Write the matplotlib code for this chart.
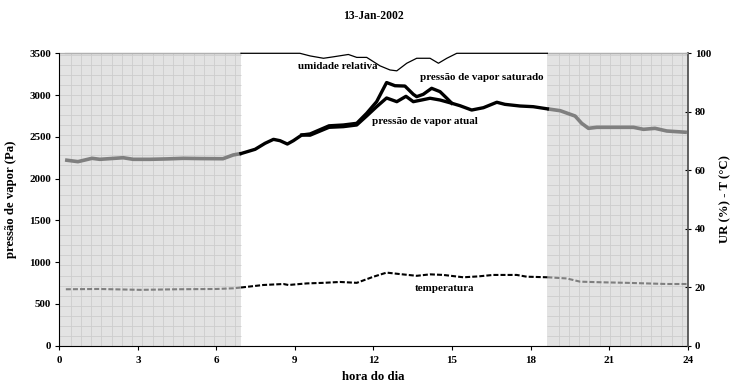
import numpy as np
import matplotlib
matplotlib.use("Agg")
import matplotlib.pyplot as plt

# ---------------- data ----------------
sunrise = 6.94
sunset = 18.64

vp_hours = [0.22, 0.71, 1.25, 1.55, 2.44, 2.82, 3.47, 4.12, 4.73, 5.38, 6.25, 6.64,
            6.94, 7.48, 7.86, 8.18, 8.43, 8.71, 8.94, 9.26, 9.58, 10.3, 10.85, 11.36,
            11.74, 12.12, 12.5, 12.89, 13.24, 13.52, 13.84, 14.16, 14.54, 14.99, 15.3,
            15.75, 16.2, 16.71, 17.02, 17.6, 18.1, 18.64, 19.13, 19.7, 19.95, 20.21,
            20.53, 21.29, 21.93, 22.31, 22.75, 23.2, 23.97]
vp_actual = [2223, 2203, 2243, 2231, 2250, 2231, 2231, 2236, 2243, 2240, 2238, 2283,
             2300, 2351, 2423, 2470, 2454, 2414, 2454, 2522, 2520, 2614, 2622, 2642,
             2750, 2861, 2965, 2921, 2985, 2921, 2941, 2962, 2941, 2902, 2873,
             2821, 2849, 2914, 2889, 2869, 2861, 2835, 2813, 2749, 2662, 2602,
             2614, 2614, 2614, 2590, 2602, 2570, 2554]

sat_hours = [9.26, 9.58, 10.3, 10.85, 11.36, 11.74, 12.12, 12.5, 12.82, 13.2, 13.52,
             13.65, 13.9, 14.22, 14.54, 14.8, 14.99]
vp_saturated = [2522, 2535, 2632, 2642, 2662, 2782, 2921, 3150, 3112, 3108, 3009,
                2981, 3009, 3081, 3041, 2962, 2902]

rh_hours = [0.22, 6.94, 9.19, 9.58, 10.09, 10.47, 11.04, 11.36, 11.74, 12.25, 12.63,
            12.89, 13.27, 13.65, 14.16, 14.48, 14.8, 15.18, 18.64, 23.97]
rh_values = [100, 100, 100, 99.1, 98.3, 98.8, 99.6, 98.6, 98.6, 95.7, 94.3,
             94.0, 96.6, 98.3, 98.3, 96.6, 98.3, 100, 100, 100]

t_hours = [0.25, 1.5, 3.1, 4.5, 6.0, 6.65, 6.94, 7.79, 8.56, 8.75, 9.45, 10.09, 10.72,
           11.36, 12.0, 12.5, 13.0, 13.65, 14.16, 14.67, 15.43, 16.0, 16.57, 17.47,
           17.85, 18.64, 19.38, 19.89, 20.65, 21.67, 22.44, 23.2, 23.97]
t_values = [19.3, 19.4, 19.1, 19.3, 19.4, 19.63, 19.9, 20.76, 21.1, 20.76, 21.3, 21.5,
            21.8, 21.5, 23.6, 25.0, 24.5, 23.9, 24.4, 24.2, 23.4, 23.7, 24.2, 24.2,
            23.6, 23.4, 23.0, 21.9, 21.7, 21.5, 21.3, 21.1, 21.1]

title = "13-Jan-2002"
xlabel = "hora do dia"
ylabel_left = "pressão de vapor (Pa)"
ylabel_right = "UR (%) - T (°C)"
xticks = list(range(0, 25, 3))
yticks_left = list(range(0, 3501, 500))
yticks_right = list(range(0, 101, 20))

# ---------------- style ----------------
plt.rcParams['font.family'] = ['Liberation Serif', 'DejaVu Serif']
plt.rcParams['font.weight'] = 'bold'
FS = 7.9
FS_LAB = 9.2
GREY = '#7f7f7f'

fig = plt.figure(figsize=(7.31, 3.87), dpi=100)
ax = fig.add_axes([59.3 / 731, 1 - 345.7 / 387, 628.4 / 731, 292.4 / 387])
ax2 = ax.twinx()

ax.set_xlim(0, 24)
ax.set_ylim(0, 3500)
ax2.set_ylim(0, 100)

# night shading with grid pattern
for (a, b) in [(0, sunrise), (sunset, 24)]:
    ax.axvspan(a, b, ymin=0, ymax=1, facecolor='#e3e3e3', edgecolor='none', zorder=0)
    xs = np.arange(a + 0.43, b, 0.392)
    ax.vlines(xs, 0, 3500, colors='#cdcdcd', linewidth=0.6, zorder=0.5)
    ax.hlines(np.arange(120, 3500, 120), a, b, colors='#cdcdcd', linewidth=0.6, zorder=0.5)
    ax.hlines([3500], a, b, colors='#b0b0b0', linewidth=0.9, zorder=0.6, clip_on=False)


def split(h, v):
    h = np.asarray(h, float)
    v = np.asarray(v, float)
    n1 = h <= sunrise
    d = (h >= sunrise) & (h <= sunset)
    n2 = h >= sunset
    return (h[n1], v[n1]), (h[d], v[d]), (h[n2], v[n2])


# vapour pressure actual
n1, d, n2 = split(vp_hours, vp_actual)
for seg in (n1, n2):
    ax.plot(*seg, color=GREY, lw=2.6, solid_capstyle='butt', zorder=3)
ax.plot(*d, color='black', lw=2.4, zorder=4)
# saturated
ax.plot(sat_hours, vp_saturated, color='black', lw=2.4, zorder=4)

# relative humidity
n1, d, n2 = split(rh_hours, rh_values)
for seg in (n1, n2):
    ax2.plot(*seg, color='#b0b0b0', lw=0.9, zorder=3, clip_on=False)
ax2.plot(*d, color='black', lw=0.9, zorder=4, clip_on=False)

# temperature
n1, d, n2 = split(t_hours, t_values)
for seg in (n1, n2):
    ax2.plot(*seg, color=GREY, lw=1.5, dashes=(2.4, 1.0), zorder=3)
ax2.plot(*d, color='black', lw=1.5, dashes=(2.4, 1.0), zorder=4)

# in-plot labels
ax.text(10.65, 3340, "umidade relativa", fontsize=FS, ha='center', va='center', weight='bold')
ax.text(16.13, 3208, "pressão de vapor saturado", fontsize=FS, ha='center', va='center', weight='bold')
ax.text(13.97, 2681, "pressão de vapor atual", fontsize=FS, ha='center', va='center', weight='bold')
ax.text(14.7, 687, "temperatura", fontsize=FS, ha='center', va='center', weight='bold')

# axes styling
ax.set_xticks(xticks)
ax.set_yticks(yticks_left)
ax2.set_yticks(yticks_right)
ax.tick_params(axis='x', direction='out', length=3, width=0.8, labelsize=FS, pad=4.5)
ax.tick_params(axis='y', direction='out', length=3, width=0.8, labelsize=FS, pad=3)
ax2.tick_params(axis='y', direction='inout', length=5, width=0.8, labelsize=FS, pad=2.5)
for a_ in (ax, ax2):
    a_.spines['top'].set_visible(False)
ax.spines['right'].set_visible(False)
ax2.spines['left'].set_visible(False)
ax2.spines['bottom'].set_visible(False)
ax2.spines['right'].set_color('#555555')
ax2.spines['right'].set_linewidth(1.3)
ax.spines['left'].set_linewidth(0.8)
ax.spines['bottom'].set_linewidth(0.8)
ax.set_facecolor('none')
ax2.set_zorder(ax.get_zorder() + 1)
ax2.patch.set_visible(False)

ax.set_xlabel(xlabel, fontsize=FS_LAB, weight='bold', labelpad=4)
ax.set_ylabel(ylabel_left, fontsize=FS_LAB, weight='bold', labelpad=9)
ax2.set_ylabel(ylabel_right, fontsize=FS_LAB, weight='bold', labelpad=6)
fig.text(373.5 / 731, 1 - 16 / 387, title, fontsize=8.4, weight='bold', ha='center', va='center')

fig.savefig("out.png", dpi=100)
